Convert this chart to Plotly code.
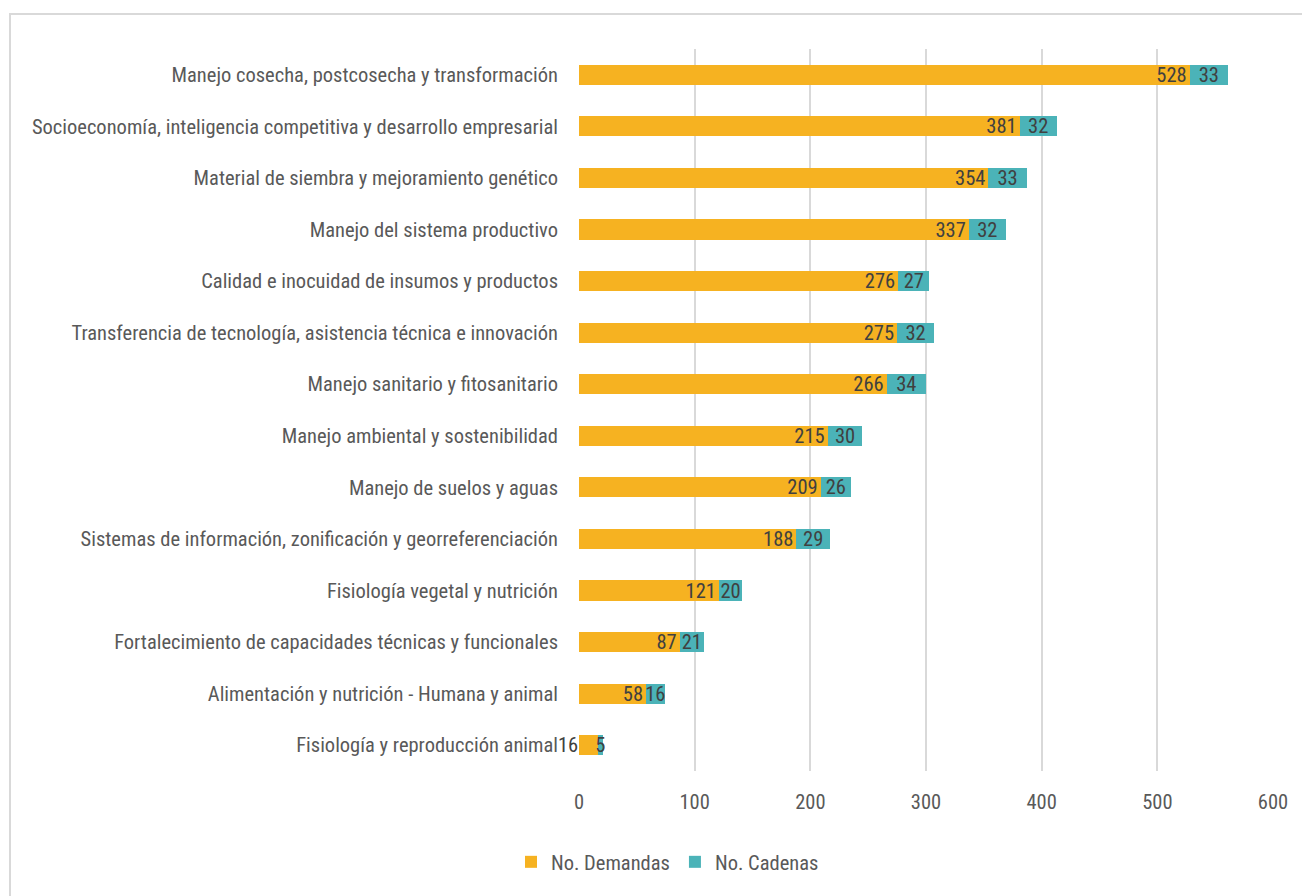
import plotly.graph_objects as go

categories = [
    "Manejo cosecha, postcosecha y transformación",
    "Socioeconomía, inteligencia competitiva y desarrollo empresarial",
    "Material de siembra y mejoramiento genético",
    "Manejo del sistema productivo",
    "Calidad e inocuidad de insumos y productos",
    "Transferencia de tecnología, asistencia técnica e innovación",
    "Manejo sanitario y fitosanitario",
    "Manejo ambiental y sostenibilidad",
    "Manejo de suelos y aguas",
    "Sistemas de información, zonificación y georreferenciación",
    "Fisiología vegetal y nutrición",
    "Fortalecimiento de capacidades técnicas y funcionales",
    "Alimentación y nutrición - Humana y animal",
    "Fisiología y reproducción animal",
]
demandas = [528, 381, 354, 337, 276, 275, 266, 215, 209, 188, 121, 87, 58, 16]
cadenas = [33, 32, 33, 32, 27, 32, 34, 30, 26, 29, 20, 21, 16, 5]
x_ticks = [0, 100, 200, 300, 400, 500, 600]

FONT = "Liberation Sans Narrow, Roboto Condensed, Arial Narrow, Liberation Sans, sans-serif"
ORANGE = "#F6B221"
TEAL = "#4BB3B8"
LABEL = "#404040"
GREY = "#595959"
FS = 20.5

# page offset (browser body margin) compensation
OFF = 8
L, R_EDGE, T, B_EDGE = 579 - OFF, 1273 - OFF, 49 - OFF, 771 - OFF
PW = R_EDGE - L
PH = B_EDGE - T

dem_pos = ["inside" if v >= 40 else "none" for v in demandas]

fig = go.Figure()
fig.add_trace(go.Bar(
    y=categories, x=demandas, orientation="h", name="No. Demandas",
    marker=dict(color=ORANGE, line=dict(width=0)),
    text=[str(v) for v in demandas], textposition=dem_pos,
    insidetextanchor="end", constraintext="none", textangle=0,
    textfont=dict(family=FONT, size=FS, color=LABEL),
    hoverinfo="x+y",
))
fig.add_trace(go.Bar(
    y=categories, x=cadenas, orientation="h", name="No. Cadenas",
    marker=dict(color=TEAL, line=dict(width=0)),
    text=[str(v) for v in cadenas], textposition="inside",
    insidetextanchor="middle", constraintext="none", textangle=0,
    textfont=dict(family=FONT, size=FS, color=LABEL),
    hoverinfo="x+y",
))

for c, v in zip(categories, demandas):
    if v < 40:
        fig.add_annotation(x=0, y=c, xref="x", yref="y", text=str(v),
                           showarrow=False, xanchor="right", xshift=1,
                           font=dict(family=FONT, size=FS, color=LABEL))

# outer border
fig.add_shape(type="rect", xref="paper", yref="paper",
              x0=(10 - OFF - L) / PW, x1=1.2, y0=-0.3, y1=(B_EDGE - (14 - OFF)) / PH,
              line=dict(color="#D9D9D9", width=2), fillcolor="rgba(0,0,0,0)",
              layer="below")

fig.update_layout(
    width=1310, height=896,
    margin=dict(l=L, r=1310 - R_EDGE, t=T, b=896 - B_EDGE),
    paper_bgcolor="white", plot_bgcolor="white",
    barmode="stack", bargap=0.61,
    font=dict(family=FONT, size=FS, color=GREY),
    showlegend=True,
    legend=dict(orientation="h", xanchor="left", yanchor="middle",
                x=(511 - L - OFF) / PW, y=-(862 - 771) / PH,
                font=dict(family=FONT, size=FS, color=GREY),
                itemwidth=30, traceorder="normal"),
    xaxis=dict(range=[0, 600], tickvals=x_ticks, showgrid=True,
               gridcolor="#D9D9D9", gridwidth=2, zeroline=False,
               showline=False, ticks="", tickfont=dict(family=FONT, size=FS, color=GREY),
               ticklabelstandoff=16),
    yaxis=dict(autorange="reversed", showgrid=False, showline=False,
               ticks="", tickfont=dict(family=FONT, size=FS, color=GREY),
               ticklabelstandoff=20),
)

fig.write_html("out.html")
